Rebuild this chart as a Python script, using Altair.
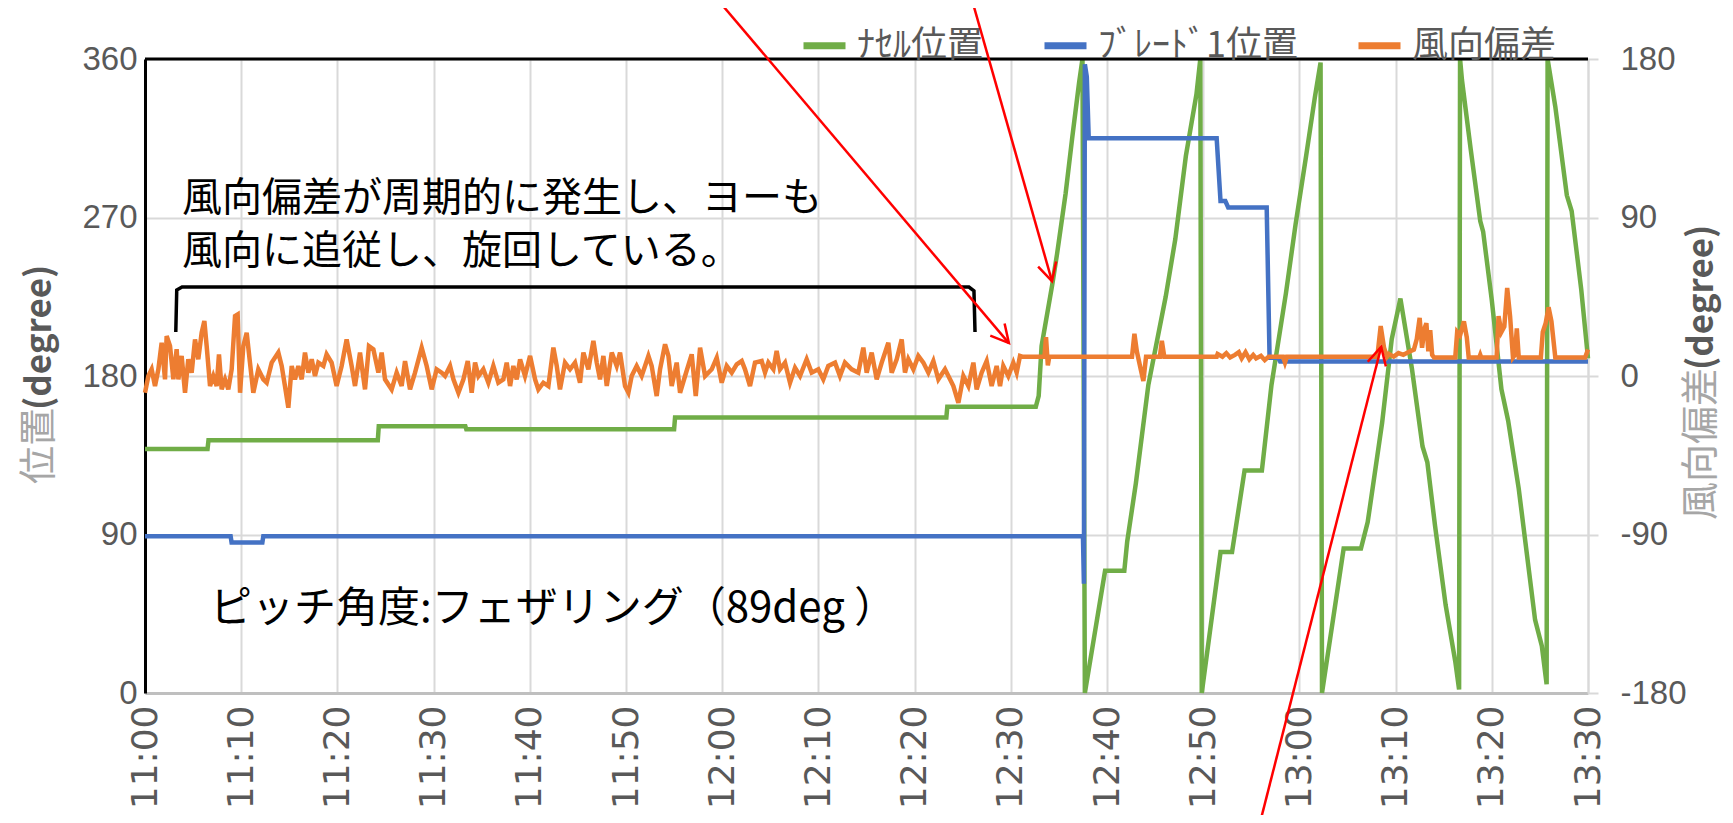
import math
import altair as alt
import pandas as pd

W, H = 1443, 634
T_END = 150

SERIES = ["ﾅｾﾙ位置", "ﾌﾞﾚｰﾄﾞ1位置", "風向偏差"]
COLORS = ["#70ad47", "#4472c4", "#ed7d31"]
X_TICKS = list(range(0, 151, 10))
LEFT_TICKS = [0, 90, 180, 270, 360]
RIGHT_TICKS = [-180, -90, 0, 90, 180]

# time = minutes after 11:00
nacelle_t = [0, 6.5, 6.6, 24.2, 24.3, 33.3, 33.4, 55.0, 55.1, 83.3, 83.4, 92.6, 92.9, 93.2,
             94.3, 94.8, 95.7, 96.4, 97.1, 97.45,
             97.7, 99.8, 101.8, 102.1, 103.0, 104.3, 106.1, 107.1, 108.2, 109.3, 109.7,
             109.85, 111.8, 113.0, 114.3, 116.1, 117.1, 118.6, 119.6, 120.7, 121.6, 122.2,
             122.35, 124.6, 126.4, 127.1, 128.6, 129.6, 130.5,
             131.7, 132.8, 133.3, 134.1, 135.2, 136.2, 136.6,
             136.7, 136.9, 137.8, 138.8, 139.1, 140.0, 141.0, 141.7, 142.8, 144.5, 145.2, 145.7,
             145.8, 146.6, 147.8, 148.3, 149.3, 150.0]
nacelle_v = [138.5, 138.5, 143.5, 143.5, 151.5, 151.5, 149.7, 149.7, 156.5, 156.5, 162.5, 162.5, 168.7, 197,
             231.6, 249, 283.7, 316, 346.6, 360,
             0, 69.4, 69.4, 86, 119, 175, 225, 257.7, 305, 340, 360,
             0, 80, 80, 126.4, 126.4, 175, 227, 266, 305, 338, 358,
             0, 82, 82, 97, 153.5, 201, 224,
             184, 140, 131, 95, 50, 18, 2,
             360, 348, 309, 268, 262, 223, 172.5, 154.6, 116, 41.5, 26.7, 5,
             360, 333, 282.6, 273.7, 229, 190]

blade_t = [0, 8.9, 9.0, 12.2, 12.3, 97.5, 97.6, 97.7, 97.9, 98.1, 111.4, 111.8, 112.3,
           112.6, 116.6, 116.9, 117.8, 118.0, 150.0]
blade_v = [89, 89, 85.5, 85.5, 89, 89, 62, 357, 350, 315, 315, 279.3, 279.3,
           275.7, 275.7, 190.4, 190.4, 188.2, 188.2]

wind_t = [0.00, 0.35, 0.69, 1.04, 1.39, 1.73, 2.08, 2.25, 2.60, 2.95, 3.29, 3.47, 3.81, 4.16, 4.50,
          4.85, 5.20, 5.54, 5.89, 6.17, 6.41, 6.76, 7.10, 7.45, 7.69, 7.97, 8.32, 8.66, 9.01, 9.36,
          9.63, 9.88, 10.22, 10.57, 10.91, 11.26, 11.78, 12.30, 12.65, 13.17, 13.86, 14.21, 14.55,
          14.90, 15.25, 15.59, 15.94, 16.29, 16.63, 16.98, 17.33, 17.67, 18.02, 18.54, 18.88, 19.40,
          19.92, 20.44, 20.96, 21.48, 21.83, 22.35, 22.87, 23.28, 23.74, 24.26, 24.60, 24.95, 25.64,
          26.16, 26.68, 27.03, 27.55, 28.07, 28.76, 29.28, 29.80, 30.32, 30.84,
          31.19, 31.71, 32.06, 32.58, 33.10, 33.55, 33.96, 34.31, 34.66, 35.17, 35.69, 36.21, 36.73,
          37.25, 37.60, 37.95, 38.29, 38.64, 38.99, 39.50, 40.03, 40.55, 40.89, 41.41, 41.93, 42.45,
          42.80, 43.14, 43.66, 44.18, 44.70, 45.22, 45.57, 46.09, 46.61, 46.96, 47.30, 47.65, 48.00,
          48.52, 49.03, 49.38, 49.90, 50.25, 50.59, 51.11, 51.63, 52.33, 52.67, 53.19, 53.54, 54.06,
          54.41, 54.75, 55.27, 55.62, 56.14, 56.83, 57.25, 57.70, 58.22, 58.91, 59.43, 59.95, 60.47,
          60.99, 61.51, 62.03,
          62.37, 62.89, 63.41, 64.10, 64.45, 64.80, 65.32, 65.66, 66.01, 66.53, 67.05, 67.57, 68.09,
          68.78, 69.30, 69.99, 70.51, 71.03, 71.73, 72.24, 72.76, 73.46, 74.15, 74.67, 75.02, 75.54,
          76.06, 76.58, 77.27, 77.62, 78.14, 78.66, 79.00, 79.35, 79.87, 80.39, 80.91, 81.43, 81.95,
          82.47, 83.16, 83.68, 84.03, 84.55, 85.07, 85.59, 86.11, 86.45, 86.97, 87.49, 88.01, 88.53,
          88.88, 89.22, 89.74, 90.26, 90.61, 90.96, 91.2,
          93.5, 93.66, 93.85, 94.0, 102.6, 102.85, 103.1, 103.5, 103.78, 104.06, 105.5, 105.7, 105.95,
          111.4, 111.5, 112.0, 112.4, 112.8, 113.3, 113.7, 114.0, 114.4, 114.8, 115.2, 115.5, 116.0,
          116.4, 116.8, 118.3, 118.5, 118.7, 128.1, 128.45, 128.8, 129.1, 129.3, 129.8, 130.3, 130.8,
          131.3, 131.9, 132.2, 132.5, 132.75, 133.0, 133.2, 133.4, 133.6, 133.8, 134.0, 136.2, 136.4,
          136.7, 137.1, 137.4, 137.6, 138.7, 138.8, 138.9, 140.5, 140.7, 141.0, 141.3, 141.6, 141.9,
          142.2, 142.4, 142.6, 142.8, 145.1, 145.3, 145.6, 145.9, 146.2, 146.6, 149.7, 150.0]
wind_v = [-9.5, 0, 3.8, -5.7, 3.8, 18.9, -1.9, 22.7, 17.0, -1.9, 15.2, -1.9, 11.4, -9.5, 9.5,
          1.9, 20.8, 9.5, 24.6, 31.3, 17.0, -5.7, 0, -5.7, 12.3, -7.6, -1.9, -7.6, 3.8, 34.1,
          35.0, -9.5, 17.0, 24.6, 7.6, -9.5, 3.8, -1.9, -3.8, 7.6, 13.3, 5.7, -5.7,
          -18.0, 5.7, -1.9, 5.7, -1.9, 13.3, 1.9, 9.5, 0, 7.6, 5.7, 12.3, 7.6,
          -5.7, 5.7, 20.8, 5.7, -5.7, 13.3, -7.6, 17.0, 15.2, 1.9, 13.3, -1.9, -7.6,
          1.9, -5.7, 8.5, -7.6, 1.9, 16.1, 5.7, -7.6, 3.8, 1.9,
          0, 5.7, -1.9, -9.5, -1.9, 8.5, -9.5, 7.6, 0, 3.8, -3.8, 5.7, -3.8,
          -1.9, 7.6, -5.7, 5.7, -1.9, 9.5, 0, 11.4, -1.9, -7.6, -3.8, -5.7, 16.1,
          5.7, -7.6, 7.6, 3.8, 7.6, -3.8, 13.3, 3.8, 19.9, 7.6, -1.9, 11.4, -5.7,
          13.3, 5.7, 13.3, -5.7, -9.5, 0, 5.7, 0, 11.4, 5.7, -11.4, 3.8, 18.0,
          11.4, -5.7, 7.6, -9.5, 0, 12.3, -11.4, 16.1, 0, 3.8, 10.4, -3.8, 5.7,
          1.9, 6.6, 8.5,
          3.8, -5.7, 7.6, 8.5, 2.0, 7.6, 3.8, 14.2, 3.8, 7.6, -3.8, 4.7, 0,
          9.5, 1.9, 3.8, -1.9, 5.7, 7.6, 0, 7.6, 3.8, 1.9, 16.1, 1.9, 13.3,
          -1.9, 7.6, 18.9, 1.9, 9.5, 20.8, 1.9, 9.5, 3.8, 11.4, 7.6, 1.9, 8.5,
          -1.9, 3.8, -1.9, -5.7, -15.2, 0, -5.7, 7.6, -7.6, 1.9, 8.5, -5.7, 5.7,
          -5.7, 5.7, 0, 7.6, 1.9, 11.4, 11,
          11, 22, 6, 11, 11, 24, 14, 4, -2.8, 11, 11, 20, 11,
          11, 12.5, 11, 13, 10.5, 12, 13.5, 10, 13.5, 9.5, 12, 10, 11.5,
          9, 11, 11, 7.6, 11, 11, 28.4, 16, 11, 12.5, 11, 13, 12,
          13.5, 15, 21, 33, 16, 27, 30, 14, 26, 12, 10.5, 10.5, 25,
          23, 31, 22, 10.5, 10.5, 12, 10.5, 10.5, 34, 25, 28, 50, 34,
          10.5, 12, 27, 10.5, 10.5, 25, 30, 39, 31, 10.5, 10.5, 15]

# annotation geometry in data units (minutes, left-axis degrees)
bracket_t = [3.2, 3.3, 3.85, 85.65, 86.17, 86.28]
bracket_v = [205.0, 228.8, 230.5, 230.5, 228.3, 205.0]
arrow_t0 = [59.56, 85.97, 115.9]
arrow_v0 = [393.5, 393.5, -73.8]
arrow_t1 = [89.8, 94.28, 128.5]
arrow_v1 = [198.7, 233.9, 196.5]

note_line1 = "風向偏差が周期的に発生し、ヨーも"
note_line2 = "風向に追従し、旋回している。"
note_pitch = "ピッチ角度:フェザリング（89deg ）"


def frame(ts, vs, name):
    return pd.DataFrame({"t": ts, "v": vs, "series": name, "i": list(range(len(ts)))})


df_g = frame(nacelle_t, nacelle_v, SERIES[0])
df_b = frame(blade_t, blade_v, SERIES[1])
df_o = frame(wind_t, wind_v, SERIES[2])


def to_px(t, v):
    return t * W / T_END, H - v * H / 360.0


angles = []
for a, b, c, d in zip(arrow_t0, arrow_v0, arrow_t1, arrow_v1):
    x0, y0 = to_px(a, b)
    x1, y1 = to_px(c, d)
    angles.append(math.degrees(math.atan2(x1 - x0, -(y1 - y0))) % 360)

df_arrows = pd.DataFrame({"t0": arrow_t0, "v0": arrow_v0, "t1": arrow_t1, "v1": arrow_v1, "ang": angles})
df_bracket = pd.DataFrame({"t": bracket_t, "v": bracket_v, "i": list(range(len(bracket_t)))})

GRAY = "#595959"
GRID = "#d9d9d9"
JP = "Noto Sans CJK JP"
NUM = "Liberation Sans"

xs = alt.Scale(domain=[0, T_END], nice=False, zero=False)
ys_left = alt.Scale(domain=[0, 360], nice=False, zero=False)
ys_right = alt.Scale(domain=[-180, 180], nice=False, zero=False)
cs = alt.Scale(domain=SERIES, range=COLORS)

xaxis = alt.Axis(values=X_TICKS, title=None, labelAngle=270, labelFont="DejaVu Sans",
                 labelFontSize=36, labelColor=GRAY, labelPadding=12, labelFlush=False,
                 labelOverlap=False, ticks=False, domainColor="#bfbfbf", domainWidth=3,
                 gridColor=GRID, gridWidth=2,
                 labelExpr="(floor(datum.value/60)+11) + ':' + (datum.value%60==0 ? '00' : '' + (datum.value%60))")
yaxis_left = alt.Axis(values=LEFT_TICKS, title=None, labelFont=NUM,
                      labelFontSize=33, labelColor=GRAY, labelPadding=8, ticks=False,
                      domainColor="black", domainWidth=3, gridColor=GRID, gridWidth=2,
                      labelExpr="'' + datum.value")
yaxis_right = alt.Axis(values=RIGHT_TICKS, title=None, orient="right", labelFont=NUM,
                       labelFontSize=33, labelColor=GRAY, labelPadding=22, ticks=True,
                       tickColor=GRID, tickWidth=2, tickSize=10, domainColor=GRID, domainWidth=2,
                       grid=False, labelExpr="'' + datum.value")

leg = alt.Legend(title=None)

green = alt.Chart(df_g).mark_line(strokeWidth=4.5).encode(
    x=alt.X("t:Q", scale=xs, axis=xaxis),
    y=alt.Y("v:Q", scale=ys_left, axis=yaxis_left),
    color=alt.Color("series:N", scale=cs, legend=leg),
    order="i:Q",
)
blue = alt.Chart(df_b).mark_line(strokeWidth=4.5).encode(
    x=alt.X("t:Q", scale=xs, axis=xaxis),
    y=alt.Y("v:Q", scale=ys_left, axis=yaxis_left),
    color=alt.Color("series:N", scale=cs, legend=leg),
    order="i:Q",
)
left_layer = alt.layer(green, blue)

orange = alt.Chart(df_o).mark_line(strokeWidth=4.5).encode(
    x=alt.X("t:Q", scale=xs, axis=xaxis),
    y=alt.Y("v:Q", scale=ys_right, axis=yaxis_right),
    color=alt.Color("series:N", scale=cs, legend=leg),
    order="i:Q",
)

one = alt.Data(values=[{}])
ys_ann = alt.Scale(domain=[0, 360], nice=False, zero=False)

bracket = alt.Chart(df_bracket).mark_line(color="black", strokeWidth=3.5, clip=False).encode(
    x=alt.X("t:Q", scale=xs, axis=xaxis),
    y=alt.Y("v:Q", scale=ys_ann, axis=None),
    order="i:Q",
)
arrows = alt.Chart(df_arrows).mark_rule(color="red", strokeWidth=2.5, clip=False).encode(
    x=alt.X("t0:Q", scale=xs, axis=xaxis), x2="t1:Q",
    y=alt.Y("v0:Q", scale=ys_ann, axis=None), y2="v1:Q",
)
heads = alt.Chart(df_arrows).mark_point(
    shape="M -0.53 1 L 0 0 L 0.53 1", filled=False, color="red", strokeWidth=2.5,
    size=1250, opacity=1, clip=False,
).encode(
    x=alt.X("t1:Q", scale=xs, axis=xaxis),
    y=alt.Y("v1:Q", scale=ys_ann, axis=None),
    angle=alt.Angle("ang:Q", scale=None),
)
top_border = alt.Chart(one).mark_rule(color="black", strokeWidth=3).encode(
    x=alt.value(0), x2=alt.value(W), y=alt.value(0)
)


def label(text, x, y, size, color="black", angle=0, align="left", weight="normal", font=JP):
    return alt.Chart(one).mark_text(
        text=text, font=font, fontSize=size, color=color, angle=angle, align=align,
        baseline="middle", fontWeight=weight,
    ).encode(x=alt.value(x), y=alt.value(y))


texts = [
    label(note_line1, 37, 140, 40),
    label(note_line2, 37, 193, 40),
    label(note_pitch, 65, 550, 42),
    label("位置", -105, 349, 38, color="#a6a6a6", angle=270, align="right"),
    label("(degree)", -105, 351, 35, color=GRAY, angle=270, align="left", weight="bold"),
    label("風向偏差", 1557, 309, 38, color="#a6a6a6", angle=270, align="right"),
    label("(degree)", 1557, 311, 35, color=GRAY, angle=270, align="left", weight="bold"),
]

annot = alt.layer(top_border, bracket, arrows, heads, *texts)

chart = alt.layer(left_layer, orange, annot).resolve_scale(y="independent").properties(
    width=W, height=H,
    padding={"left": 137, "top": 51, "right": 137, "bottom": 122},
    autosize=alt.AutoSizeParams(type="none"),
).configure_view(stroke=None).configure_legend(
    orient="none", legendX=655, legendY=-38, direction="horizontal",
    symbolType="stroke", symbolSize=1764, symbolStrokeWidth=7,
    labelFont=JP, labelFontSize=36, labelColor=GRAY, labelLimit=600,
    columnPadding=46, labelOffset=8, padding=0,
)

chart.save("out.html", embed_options={"renderer": "svg", "actions": False})
